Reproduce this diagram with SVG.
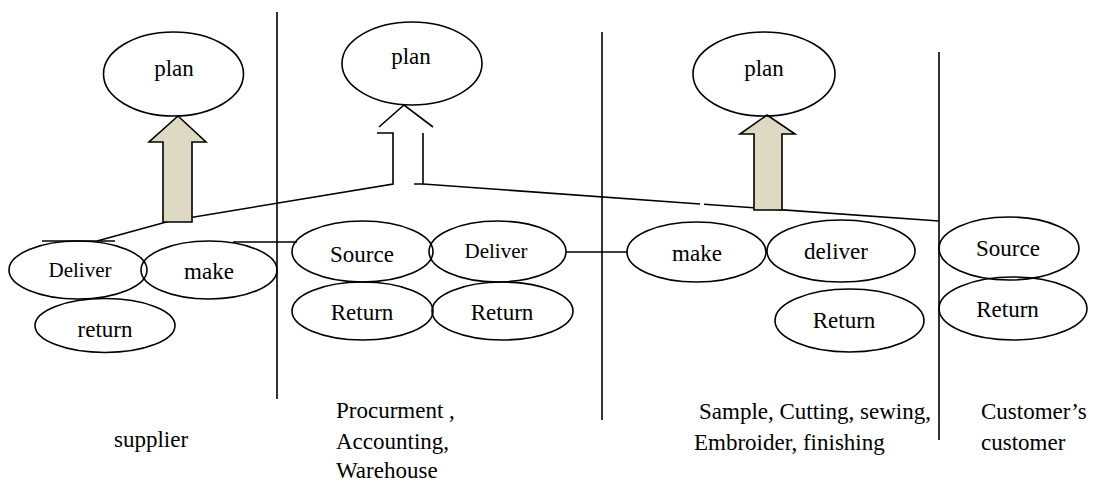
<svg xmlns="http://www.w3.org/2000/svg" width="1094" height="482" viewBox="0 0 1094 482">
<style>
.e{fill:none;stroke:#000;stroke-width:1.6}
.l{fill:none;stroke:#000;stroke-width:1.6}
.t{font-family:"Liberation Serif","Times New Roman",serif;font-size:23px;fill:#000}
.s{font-size:21px}
.m{text-anchor:middle}
.a{fill:#ddd9c3;stroke:#000;stroke-width:1.6;stroke-linejoin:miter}
</style>
<rect width="1094" height="482" fill="#fff"/>
<g id="connectors">
<line class="l" x1="277" y1="12" x2="277" y2="399"/>
<line class="l" x1="602" y1="32" x2="602" y2="420"/>
<line class="l" x1="939" y1="52" x2="939" y2="440"/>
<line class="l" x1="42" y1="241" x2="115" y2="241"/>
<polyline class="l" points="97,241 170,221 393,184 393,133 377,133"/>
<polyline class="l" points="423,133 423,184 414,184"/>
<line class="l" x1="423" y1="184" x2="700" y2="204"/>
<line class="l" x1="704" y1="204.3" x2="939" y2="221"/>
<polyline class="l" points="379,127 404,105 433,127"/>
<line class="l" x1="233" y1="242" x2="297" y2="242"/>
<line class="l" x1="566" y1="252" x2="627" y2="252"/>
<polygon class="a" points="178,116 206,142 192,142 192,222 163,222 163,142 149,142"/>
<polygon class="a" points="767,115 795,134 782,134 782,210 754,210 754,134 740,134"/>
</g>
<g id="plan1"><ellipse class="e" cx="173.5" cy="74" rx="70" ry="42"/><text class="t m" x="174" y="76">plan</text></g>
<g id="plan2"><ellipse class="e" cx="412" cy="63.5" rx="70" ry="41.5"/><text class="t m" x="411" y="64">plan</text></g>
<g id="plan3"><ellipse class="e" cx="764" cy="74" rx="71" ry="42"/><text class="t m" x="764" y="76">plan</text></g>
<g id="sup-deliver"><ellipse class="e" cx="78" cy="270" rx="69" ry="29"/><text class="t s m" x="80" y="277">Deliver</text></g>
<g id="sup-make"><ellipse class="e" cx="209" cy="270" rx="68" ry="29"/><text class="t m" x="209" y="279">make</text></g>
<g id="sup-return"><ellipse class="e" cx="105" cy="325.5" rx="70" ry="27"/><text class="t m" x="105" y="337">return</text></g>
<g id="proc-source"><ellipse class="e" cx="362.5" cy="251.5" rx="70.5" ry="30.5"/><text class="t m" x="362" y="262">Source</text></g>
<g id="proc-deliver"><ellipse class="e" cx="497.5" cy="251.5" rx="68.5" ry="30.5"/><text class="t s m" x="496" y="258">Deliver</text></g>
<g id="proc-return1"><ellipse class="e" cx="362.5" cy="311" rx="70.5" ry="29"/><text class="t m" x="362" y="320">Return</text></g>
<g id="proc-return2"><ellipse class="e" cx="502.5" cy="311" rx="70.5" ry="29"/><text class="t m" x="502" y="320">Return</text></g>
<g id="mfg-make"><ellipse class="e" cx="696.5" cy="252" rx="69.5" ry="30"/><text class="t m" x="697" y="261">make</text></g>
<g id="mfg-deliver"><ellipse class="e" cx="841" cy="251" rx="74" ry="31"/><text class="t m" x="836" y="259">deliver</text></g>
<g id="mfg-return"><ellipse class="e" cx="849.5" cy="320.5" rx="74.5" ry="31.5"/><text class="t m" x="844" y="328">Return</text></g>
<g id="cust-source"><ellipse class="e" cx="1009" cy="248.5" rx="70" ry="31.5"/><text class="t m" x="1008" y="256">Source</text></g>
<g id="cust-return"><ellipse class="e" cx="1013" cy="308.5" rx="74" ry="31.5"/><text class="t m" x="1007.5" y="317">Return</text></g>
<g id="labels">
<text class="t" x="114" y="447">supplier</text>
<text class="t" x="336" y="418">Procurment ,</text>
<text class="t" x="336" y="449">Accounting,</text>
<text class="t" x="336" y="478">Warehouse</text>
<text class="t" x="699" y="419">Sample, Cutting, sewing,</text>
<text class="t" x="694" y="450">Embroider, finishing</text>
<text class="t" x="981" y="419">Customer’s</text>
<text class="t" x="981" y="450">customer</text>
</g>
</svg>
